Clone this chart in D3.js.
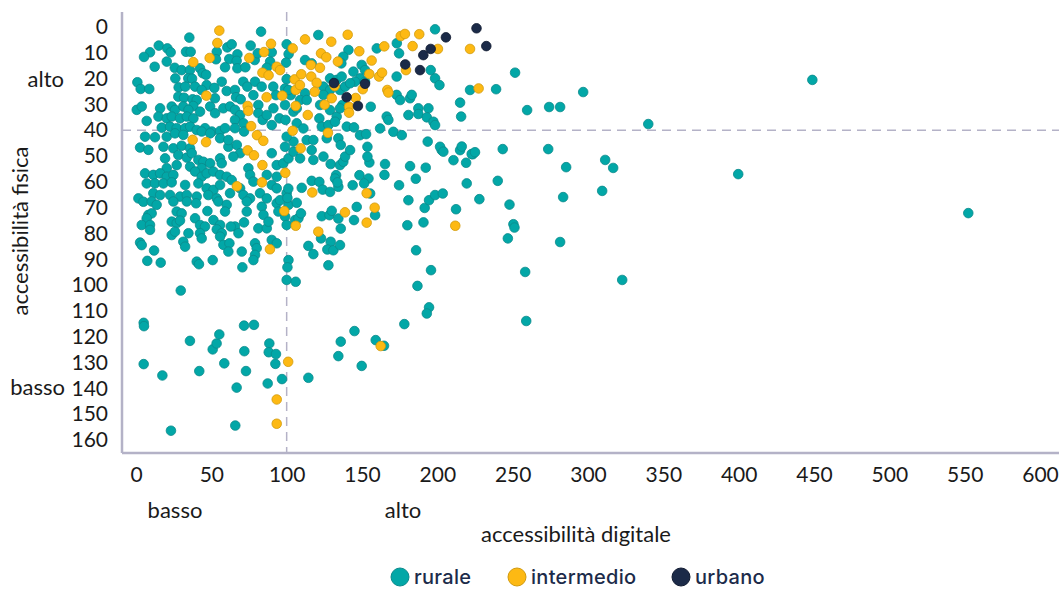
<!DOCTYPE html>
<html>
<head>
<meta charset="utf-8">
<script src="https://cdn.jsdelivr.net/npm/d3@7"></script>
<style>
  body { margin: 0; background: #fff; }
  svg { display: block; font-family: Lato, "Liberation Sans", sans-serif; }
  .tick text { font-size: 21px; fill: #1a1a1a; font-family: Lato, "Liberation Sans", sans-serif; }
  .label { font-size: 22px; fill: #1a1a1a; }
  .legend text { font-family: Inter, Roboto, sans-serif; font-size: 20px; font-weight: 500; fill: #1c2b4a; letter-spacing: 0.3px; }
</style>
</head>
<body>
<svg width="1059" height="589"></svg>
<script>
// [accessibilità digitale, accessibilità fisica]
const urbano = [
  [226, 0.5], [232.5, 7.4], [205.7, 4], [195.6, 8.5], [190.7, 10.9], [178.7, 14.5],
  [188.5, 16.7], [131.4, 21.7], [152, 22], [139.8, 27.2], [147.3, 30.6]
];

const intermedio = [
  [55.3, 1.4], [54, 6.2], [38, 13.6], [48.9, 12], [46.7, 26.6], [75.2, 12], [89.6, 6.5], [85, 9.7],
  [104, 8.3], [93.4, 15.4], [83.9, 17.7], [88, 18.7], [95.6, 16.7], [105.3, 20.3], [106, 24.4],
  [97.1, 26.6], [86.7, 27.2], [74.1, 30.6], [74.5, 32.5], [106, 30.6], [76.4, 38.4], [104, 40.2],
  [37.6, 43.7], [46.5, 44.6], [80.3, 41.9], [84.5, 44.1], [74.1, 47.8], [78.3, 49.7], [83.9, 53.5],
  [99.1, 56.5], [67, 61.7], [83.6, 60.2], [98.4, 71.3], [106, 77], [88.9, 86.1], [101, 129.7],
  [93.4, 144.3], [93.4, 153.7], [112.2, 4.8], [140.5, 3], [129.6, 5.7], [122.8, 10.2], [126.3, 11.7],
  [148.2, 9.4], [175.7, 3.5], [178.5, 2.7], [188, 2.8], [164.8, 7.5], [183.6, 7.4], [200.4, 8.5],
  [134, 13.4], [116.1, 14.7], [122.1, 15.8], [156.4, 13], [109.7, 18.3], [116.3, 19.2], [119.9, 21.6],
  [108.8, 22.5], [131.9, 22.9], [154.8, 18.2], [161.3, 19.2], [163.3, 17.7], [166.8, 24.4], [179.2, 16.7],
  [118.6, 25.1], [150.5, 24.1], [167.5, 25.4], [129.9, 27.6], [145.8, 27.5], [125.2, 30.1], [141.4, 30.9],
  [141.4, 33.2], [114, 34.1], [127.4, 41], [109.3, 47], [221.7, 8.5], [227.4, 23.8], [117, 64.1],
  [153.1, 64.4], [158.4, 70], [153.1, 75.8], [138.7, 71.8], [121, 79.3], [211.9, 77], [162.4, 123.6]
];

const rurale = [
  // 0-100, 0-30
  [35.4, 4.1], [83, 1.8], [15.1, 7.2], [20.8, 8.3], [23, 9.8], [9.3, 9.8], [5.3, 11.6], [33.2, 9.6],
  [36.3, 9.6], [20.4, 13.4], [12.4, 15.4], [53.6, 9.6], [53.1, 12.5], [60.6, 7.9], [63.5, 6.7], [76.1, 7.2],
  [67.3, 10.6], [61.9, 12.4], [66.8, 13.1], [59.1, 15.6], [67.3, 16], [72.6, 15.6], [78.8, 12.8], [80.8, 10.2],
  [90.1, 9.8], [89, 13.4], [86.8, 15.8], [100, 6.7], [101.3, 10.5], [99.6, 13.8], [25.7, 15.8], [30.3, 16.7],
  [35.8, 16.7], [42.5, 16], [44.3, 17.9], [46.5, 18.5], [26.1, 19.9], [34.7, 19.9], [37.2, 20], [0.9, 21.4],
  [3.1, 24], [8.8, 24], [28.3, 23.4], [32.7, 23.1], [39.2, 23.1], [46.9, 22.5], [52, 23.6], [56.9, 21.2],
  [43.6, 24.4], [60.2, 24.8], [65.7, 24.4], [71.2, 21.2], [73.9, 23.1], [79, 21.2], [77.9, 26.4], [83.4, 23.1],
  [91.1, 23.1], [92.9, 26.4], [100, 20.2], [98.9, 23.8], [102.7, 26.4], [28.1, 27], [31.9, 27.4], [37.6, 28],
  [40.3, 28.3], [52.4, 27.6], [66.4, 27.2], [69.5, 28], [38, 30.6], [81.2, 30.2], [98.9, 30.2],
  // 0-100, 30-67
  [0.5, 32.1], [3.8, 30.8], [16, 31.5], [23.7, 30.8], [25.9, 32.1], [31.4, 30.8], [34.8, 32.1], [42.5, 32.8],
  [49.2, 30.8], [52.5, 33.4], [58, 31.5], [62.4, 30.8], [65.7, 32.1], [69.1, 34.1], [7.1, 36.4], [14.9, 34.7],
  [20.4, 35.4], [23.7, 34.7], [29.2, 35.4], [33.7, 34.7], [38.1, 35.4], [17.1, 39], [22.6, 38.6], [27, 39.2],
  [32.6, 39.2], [35.9, 38.6], [40.3, 39.9], [45.8, 39.2], [50.3, 40.5], [55.8, 40.3], [59.1, 39.2], [65.7, 36],
  [65.7, 39.2], [71.3, 37.3], [71.7, 40.5], [81.2, 33.4], [84.1, 36], [86.8, 34.1], [91.2, 31.5], [95.2, 35.4],
  [90.1, 38], [99.2, 36], [104.5, 32.8], [106.7, 37.3], [6, 42.5], [12.6, 42.7], [20.4, 42.5], [25.9, 41.2],
  [31.4, 41.8], [43.6, 40.5], [49.2, 41.2], [55.8, 43.1], [2.7, 46.7], [8.2, 47.6], [18.2, 46.4], [24.8, 47],
  [30.3, 46], [35.9, 47], [28.1, 49.6], [33.7, 50.6], [37, 48.9], [19.3, 50.9], [20.4, 54.7], [27, 53.5],
  [41.4, 51.5], [44.7, 52.2], [49.2, 52.8], [43.6, 54.7], [55.8, 50.9], [56.9, 52.8], [61.3, 46.4], [66.9, 45.7],
  [69.1, 48.9], [64.6, 50.2], [61.3, 43.8], [90.1, 48.9], [93.4, 53.5], [97.8, 52.8], [101.2, 50.9], [104.5, 44.4],
  [104.5, 48.3], [86.8, 57.3], [90.1, 61.2], [93.4, 58], [74.6, 54.7], [75.7, 57.3], [77.9, 59.9], [6, 56.7],
  [11.5, 57.3], [16, 56.7], [20.4, 58], [24.8, 57.3], [7.1, 60.6], [12.6, 60.6], [18.2, 60.6], [23.7, 60.2],
  [35.9, 54.1], [39.2, 56], [43.6, 58], [46.9, 56.7], [51.4, 56], [55.8, 57.3], [60.2, 58], [63.5, 59.3],
  [32.6, 61.2], [41.4, 60.6], [46.9, 62.5], [51.4, 63.1], [55.8, 61.2], [62.4, 64.4], [69.1, 62.5], [71.3, 65.1],
  [75.7, 66.4], [82.3, 64.4], [86.8, 66.4], [93.4, 62.5], [100, 64.4], [1.6, 66.4], [4.9, 67.7], [11.5, 64.4],
  [16, 65.1], [22.6, 65.1], [29.2, 65.7], [33.7, 65.1], [40.3, 65.7], [48, 65.1], [53.6, 66.4],
  // 0-110, 67-105
  [10.4, 67.6], [13.7, 68.9], [24.8, 67.6], [33.7, 67.6], [39.9, 68.3], [54.7, 67.6], [60.2, 68.9], [73.5, 67.6],
  [73.5, 71.5], [83.5, 69.6], [84.6, 72.8], [93.4, 68.3], [94.5, 71.5], [101.2, 68.9], [8.2, 72.8], [10.4, 72.2],
  [7.1, 74.1], [27, 71.5], [30.3, 72.2], [59.1, 71.5], [3.8, 76.7], [9.3, 76.7], [9.3, 78.6], [23.7, 75.4],
  [27, 76], [29.2, 75], [23.7, 80.6], [25.9, 79.3], [39.2, 74.1], [34.8, 79.9], [31.4, 83.2], [32.6, 85.1],
  [42.5, 76.7], [45.8, 77.3], [42.5, 79.9], [43.6, 81.9], [47.4, 71.3], [51.4, 74.8], [55.8, 76.7], [53.6, 78.4],
  [56.9, 79.9], [55.8, 81.2], [65.7, 77.3], [68, 79.9], [71.7, 75.7], [62.9, 77.3], [81.2, 78], [86.8, 78],
  [87.9, 75.4], [90.1, 82.5], [93.4, 83.8], [99, 73.5], [100, 76.7], [105.6, 74.8], [107.8, 74.1], [2.7, 83.5],
  [3.8, 84.5], [12, 86.6], [58, 84.4], [62, 83.8], [61.3, 87], [70.2, 87], [79, 83.8], [80.1, 85.7],
  [79, 88.3], [77.9, 90.3], [7.5, 90.6], [16.4, 91.3], [40.3, 90.9], [41.8, 91.9], [50.9, 90.3], [70.6, 93.1],
  [101.2, 90.3], [100.5, 93.1], [100, 98], [106, 98.7], [29.7, 102.1],
  // 100-260, 45-110
  [106.7, 68.1], [129.2, 53.1], [135.4, 53.5], [137.6, 52.2], [132.8, 57.4], [132.1, 58.7], [148.3, 57.4],
  [154.3, 58.7], [151.4, 60.6], [143.8, 61.3], [154.9, 52.5], [165.3, 53.1], [164.9, 57.3], [181.9, 53.9],
  [192.3, 54.5], [185.7, 58.8], [174.6, 61.3], [202.9, 47.7], [210.7, 51.6], [219.1, 52.6], [223.5, 49.3],
  [215.1, 47.7], [219.5, 60.6], [240.1, 59.6], [101.1, 62.6], [110, 62.3], [116.6, 59.6], [121.7, 60],
  [123.9, 63], [128.8, 63.9], [134.3, 61.9], [133.7, 60.2], [95.6, 67.1], [100.5, 66.2], [109.5, 72.2],
  [123.3, 73.3], [128.4, 72.9], [129.9, 71.2], [134.3, 74.2], [135.9, 78.1], [144.7, 74.8], [146.5, 69.7],
  [155.4, 64.5], [158.7, 72.9], [114.4, 84.8], [117.7, 88], [122.8, 81.9], [129.2, 83.2], [127, 86.2],
  [131, 86.5], [135.4, 84.5], [127.7, 92.3], [180.8, 67.1], [191.6, 70.1], [194.5, 67.1], [198.5, 65.1],
  [203.6, 64.5], [212.4, 70.6], [227.9, 66.7], [247.9, 68.8], [180.1, 76.8], [190.8, 75.7], [250.5, 76.4],
  [251.2, 77.7], [246.8, 81.9], [185.9, 86.5], [195.8, 94.2], [186.8, 100.3],
  // 95-210, 0-52
  [121, 3.1], [112.2, 12.8], [116.6, 14.1], [141, 8.9], [137.6, 11.5], [136.3, 14.1], [128.8, 19.9],
  [133.2, 20.5], [136.5, 19.2], [159.8, 8.3], [174.6, 10.2], [173.1, 6.3], [198.5, 0.9], [195.6, 16.7],
  [144.3, 17.3], [149.8, 14.7], [152, 16.7], [148.7, 19.9], [145.4, 21.2], [152, 21.2], [101.1, 24.4],
  [112.2, 25.7], [108.9, 28.3], [113.3, 28.3], [106.7, 31.5], [124.4, 23.1], [128.8, 24.4], [124.4, 26.3],
  [122.2, 30.2], [128.8, 32.2], [133.2, 34.7], [135.4, 24.4], [138.8, 23.1], [142.1, 21.8], [137, 30.2],
  [135.4, 31.5], [155.8, 30.9], [173, 19.2], [173, 26.3], [175.3, 28.3], [181.9, 27.6], [183, 26.3],
  [198.5, 19.9], [201.4, 22.5], [180.8, 34.1], [187.4, 31.5], [187.4, 33.7], [194.1, 31.5], [193, 35],
  [197.4, 36.7], [198.5, 38], [162, 39.3], [166.4, 34.7], [167.5, 36], [170.8, 40.6], [176.4, 41.9],
  [139.9, 38.6], [144.7, 38.9], [148.7, 41.9], [152.7, 41.5], [111.1, 39.3], [121.7, 35.4], [123.3, 38.6],
  [127.7, 38], [132.1, 36.7], [100, 42.5], [113.3, 43.8], [117.7, 43.8], [126.6, 43.1], [134.3, 43.1],
  [135.9, 45.7], [98.9, 46.4], [116.6, 47.7], [117.7, 51.5], [124.4, 50.2], [138.8, 50.2], [142.1, 47.7],
  [153.6, 46.4], [153.6, 50.2], [193.6, 44.4], [201.8, 46.4], [204, 48.3], [108.9, 50.9],
  // far right
  [251.6, 17.7], [239, 24.1], [221.7, 24.4], [215.1, 29.3], [215.8, 34.7], [243.4, 47.3], [216.2, 46.3],
  [222.8, 49.2], [225, 48.5], [259.6, 32.2], [274.2, 31], [281.5, 31], [296.8, 25.2], [340, 37.6],
  [448.9, 20.5], [273.6, 47.3], [285.5, 54.3], [311.4, 51.5], [316.7, 54.6], [309.4, 63.5], [283.5, 65.9],
  [399.7, 57], [552.4, 72.1], [281.5, 83.3], [258.3, 94.9], [322.7, 98], [259, 113.9],
  // 105-160 band
  [194.5, 108.6], [193, 111], [178.1, 115.1], [145, 117.8], [135.9, 121.9], [159.1, 121.3], [164.6, 123.5],
  [134.3, 127.5], [149.8, 131.3], [114.4, 135.9], [5.1, 114.6], [5.3, 115.9], [5.1, 130.6], [17.5, 135],
  [23.2, 156.4], [35.8, 121.6], [42, 133.3], [50.9, 124.9], [53.5, 122.6], [55.3, 119.1], [58.6, 130.3],
  [66.8, 139.7], [65.9, 154.4], [71.7, 115.7], [78.3, 115.4], [71.9, 125.6], [73, 133.3], [88.5, 122.6],
  [88.1, 126], [92.9, 126.7], [92.5, 130.5], [87.4, 138.1], [96.9, 136.4]
];

const xTicks = [0, 50, 100, 150, 200, 250, 300, 350, 400, 450, 500, 550, 600];
const yTicks = [0, 10, 20, 30, 40, 50, 60, 70, 80, 90, 100, 110, 120, 130, 140, 150, 160];

const series = [
  { name: "rurale", data: rurale, fill: "#02a7a7", stroke: "#0b8a8c" },
  { name: "intermedio", data: intermedio, fill: "#fdb913", stroke: "#d19a0d" },
  { name: "urbano", data: urbano, fill: "#1b2a48", stroke: "#101a30" }
];

const svg = d3.select("svg");

const x = d3.scaleLinear().domain([0, 600]).range([136, 1040]);
const y = d3.scaleLinear().domain([0, 160]).range([27, 440]);

const frameLeft = 122, frameTop = 12, frameBottom = 453, frameRight = 1059;
const gridColor = "#b4b2c7";

// dashed threshold lines
svg.append("line")
  .attr("x1", x(100)).attr("x2", x(100))
  .attr("y1", frameTop).attr("y2", frameBottom)
  .attr("stroke", gridColor).attr("stroke-width", 1.5)
  .attr("stroke-dasharray", "9,6");

svg.append("line")
  .attr("x1", frameLeft).attr("x2", frameRight)
  .attr("y1", y(40)).attr("y2", y(40))
  .attr("stroke", gridColor).attr("stroke-width", 1.5)
  .attr("stroke-dasharray", "9,6");

// axes
const yAxisG = svg.append("g")
  .attr("transform", `translate(${frameLeft},0)`)
  .call(d3.axisLeft(y).tickValues(yTicks).tickSize(0).tickPadding(14));
yAxisG.select(".domain").remove();

const xAxisG = svg.append("g")
  .attr("transform", `translate(0,${frameBottom})`)
  .call(d3.axisBottom(x).tickValues(xTicks).tickSize(0).tickPadding(14));
xAxisG.select(".domain").remove();

svg.append("line")
  .attr("x1", frameLeft).attr("x2", frameLeft)
  .attr("y1", frameTop).attr("y2", frameBottom)
  .attr("stroke", gridColor).attr("stroke-width", 2.5);

svg.append("line")
  .attr("x1", frameLeft).attr("x2", frameRight)
  .attr("y1", frameBottom).attr("y2", frameBottom)
  .attr("stroke", gridColor).attr("stroke-width", 2.5);

// points
series.forEach(s => {
  svg.append("g")
    .selectAll("circle")
    .data(s.data)
    .enter()
    .append("circle")
    .attr("cx", d => x(d[0]))
    .attr("cy", d => y(d[1]))
    .attr("r", 4.8)
    .attr("fill", s.fill)
    .attr("stroke", s.stroke)
    .attr("stroke-width", 0.8);
});

// labels
svg.append("text").attr("class", "label")
  .attr("x", 64).attr("y", 87).attr("text-anchor", "end").text("alto");
svg.append("text").attr("class", "label")
  .attr("x", 65).attr("y", 395).attr("text-anchor", "end").text("basso");

svg.append("text").attr("class", "label")
  .attr("transform", "translate(28,231) rotate(-90)")
  .attr("text-anchor", "middle")
  .text("accessibilità fisica");

svg.append("text").attr("class", "label")
  .attr("x", 175).attr("y", 518).attr("text-anchor", "middle").text("basso");
svg.append("text").attr("class", "label")
  .attr("x", 403).attr("y", 518).attr("text-anchor", "middle").text("alto");
svg.append("text").attr("class", "label")
  .attr("x", 576).attr("y", 542).attr("text-anchor", "middle").text("accessibilità digitale");

// legend
const legendX = [400, 517, 681];
const legend = svg.append("g").attr("class", "legend");
const items = legend.selectAll("g")
  .data(series)
  .enter()
  .append("g")
  .attr("transform", (d, i) => `translate(${legendX[i]},577)`);

items.append("circle")
  .attr("r", 9)
  .attr("fill", d => d.fill)
  .attr("stroke", d => d.stroke)
  .attr("stroke-width", 1);

items.append("text")
  .attr("x", 14)
  .attr("dy", "0.33em")
  .text(d => d.name);
</script>
</body>
</html>
